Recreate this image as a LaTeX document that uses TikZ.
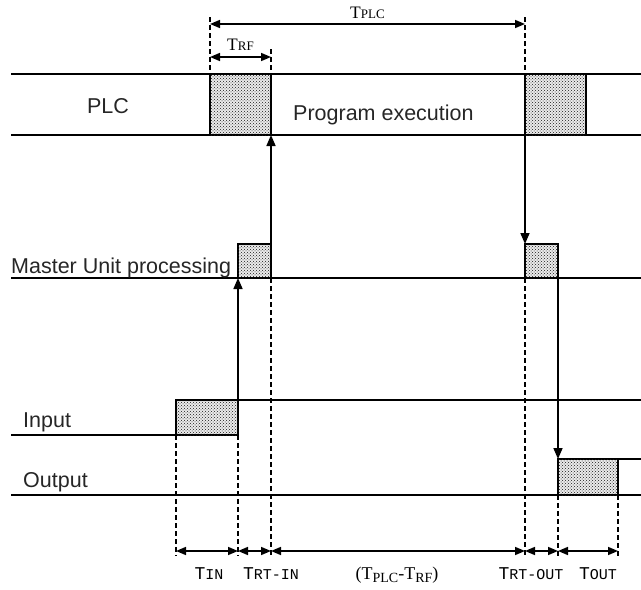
\documentclass[tikz,border=0pt]{standalone}
\usepackage{fontspec}
\setmainfont{Liberation Sans}
\newfontfamily\serifont{Liberation Serif}
\newfontfamily\monofont{Liberation Mono}
\usetikzlibrary{arrows.meta,patterns,calc}
\tikzset{
  signal/.style={draw=black,line width=1.6pt},
  busy/.style={draw=black,line width=1.6pt,fill=black!8,postaction={pattern=crosshatch dots,pattern color=black!90},inner sep=0pt,outer sep=0pt},
  guide/.style={draw=black,line width=1.3pt,dash pattern=on 5pt off 3pt},
  flow/.style={-{Triangle[length=11pt,width=9pt]},draw=black,line width=1.6pt},
  span/.style={{Triangle[length=10pt,width=8pt]}-{Triangle[length=10pt,width=8pt]},draw=black,line width=1.6pt},
  rowlabel/.style={font=\fontsize{21.5}{24}\selectfont,anchor=base west,inner sep=0pt,text=black!85},
  timelabel/.style={anchor=base,inner sep=0pt}
}
\newcommand{\tmono}[1]{{\monofont\fontsize{18}{20}\selectfont T\fontsize{15}{17}\selectfont #1}}
\newcommand{\tserif}[1]{{\serifont\fontsize{17.5}{20}\selectfont T\fontsize{13}{15}\selectfont #1}}
\newcommand{\tsub}[1]{\raisebox{-3.5pt}{\fontsize{14}{16}\selectfont #1}}

\begin{document}
\begin{tikzpicture}[x=1pt,y=-1pt]
  \useasboundingbox (0,0) rectangle (641,590);
  % signal lines
  \draw[signal] (11,74) -- (641,74);
  \draw[signal] (11,135) -- (641,135);
  \draw[signal] (11,278) -- (641,278);
  \draw[signal] (11,435) -- (176,435) (238,400) -- (641,400);
  \draw[signal] (11,495) -- (641,495) (618,459) -- (641,459);
  % busy blocks
  \node[busy,minimum width=61pt,minimum height=61pt] (plcA) at (240.5,104.5) {};
  \node[busy,minimum width=61pt,minimum height=61pt] (plcB) at (555.5,104.5) {};
  \node[busy,minimum width=33pt,minimum height=34pt] (muA) at (254.5,261) {};
  \node[busy,minimum width=33pt,minimum height=34pt] (muB) at (541.5,261) {};
  \node[busy,minimum width=62pt,minimum height=35pt] (inA) at (207,417.5) {};
  \node[busy,minimum width=60pt,minimum height=36pt] (outA) at (588,477) {};
  % row labels
  \node[rowlabel,anchor=base] (plc) at (108,113) {PLC};
  \node[rowlabel] (prog) at (293,120) {Program execution};
  \node[rowlabel] (master) at (11,273) {Master Unit processing};
  \node[rowlabel] (input) at (23,427) {Input};
  \node[rowlabel] (output) at (23,487) {Output};
  % transfers
  \draw[flow] (inA.north east) -- (muA.south west);
  \draw[flow] (muA.north east) -- (plcA.south east);
  \draw[flow] (plcB.south west) -- (muB.north west);
  \draw[flow] (muB.south east) -- (outA.north west);
  % guides
  \coordinate (cycA) at (210,17);
  \coordinate (cycB) at (525,17);
  \coordinate (rfB) at (271,49);
  \draw[guide] (cycA) -- (plcA.north west);
  \draw[guide] (cycB) -- (plcB.north west);
  \draw[guide] (rfB) -- (plcA.north east);
  \draw[guide] (inA.south west) -- ($(inA.south west)+(0,121)$) coordinate (g1);
  \draw[guide] (inA.south east) -- ($(inA.south east)+(0,121)$) coordinate (g2);
  \draw[guide] (muA.south east) -- (muA.south east |- g1) coordinate (g3);
  \draw[guide] (muB.south west) -- (muB.south west |- g1) coordinate (g4);
  \draw[guide] (outA.south west) -- (outA.south west |- g1) coordinate (g5);
  \draw[guide] (outA.south east) -- (outA.south east |- g1) coordinate (g6);
  % spans
  \draw[span] ($(cycA)+(0,7)$) -- node[timelabel,above=5pt] (tplc) {\tserif{PLC}} ($(cycB)+(0,7)$);
  \draw[span] (cycA |- 0,57) -- node[timelabel,above=6pt] (trf) {\tserif{RF}} (rfB |- 0,57);
  \draw[span] ($(g1)+(0,-5)$) -- ($(g2)+(0,-5)$);
  \draw[span] ($(g2)+(0,-5)$) -- ($(g3)+(0,-5)$);
  \draw[span] ($(g3)+(0,-5)$) -- ($(g4)+(0,-5)$);
  \draw[span] ($(g4)+(0,-5)$) -- ($(g5)+(0,-5)$);
  \draw[span] ($(g5)+(0,-5)$) -- ($(g6)+(0,-5)$);
  % time labels
  \node[timelabel] (tin) at (209,579) {\tmono{IN}};
  \node[timelabel] (trtin) at (271,579) {\tmono{RT-IN}};
  \node[timelabel] (tdiff) at (397,579) {\serifont\fontsize{18}{20}\selectfont (T\tsub{PLC}-T\tsub{RF})};
  \node[timelabel] (trtout) at (531,579) {\tmono{RT-OUT}};
  \node[timelabel] (tout) at (598,579) {\tmono{OUT}};
\end{tikzpicture}
\end{document}
